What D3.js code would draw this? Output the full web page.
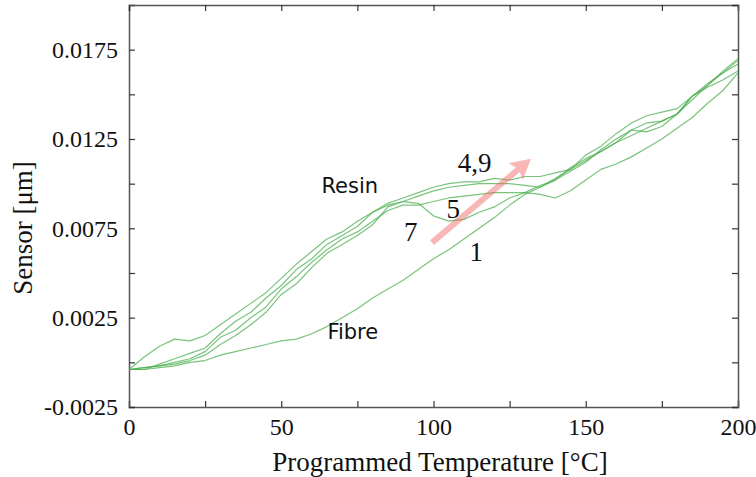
<!DOCTYPE html>
<html>
<head>
<meta charset="utf-8">
<script src="https://cdn.jsdelivr.net/npm/d3@7"></script>
<style>
  body { margin: 0; background: #fff; }
  svg { display: block; }
</style>
</head>
<body>
<svg width="756" height="477"></svg>
<script>
// temperature grid shared by every run (°C)
const temps = [0, 5, 10, 15, 20, 25, 30, 35, 40, 45, 50, 55, 60, 65, 70, 75, 80, 85, 90, 95,
  100, 105, 110, 115, 120, 125, 130, 135, 140, 145, 150, 155, 160, 165, 170, 175, 180, 185, 190, 195, 200];

// sensor readings per run
const run1 = [-0.0004, -0.0004, -0.0003, -0.0002, 0.0000, 0.0001, 0.0004, 0.0006, 0.0008, 0.0010,
  0.0012, 0.0013, 0.0016, 0.0020, 0.0025, 0.0030, 0.0036, 0.0041, 0.0046, 0.0052,
  0.0058, 0.0063, 0.0069, 0.0075, 0.0081, 0.0088, 0.0094, 0.0098, 0.0103, 0.0108,
  0.0113, 0.0118, 0.0123, 0.0130, 0.0134, 0.0135, 0.0139, 0.0147, 0.0155, 0.0163, 0.0170];
const run4 = [-0.0004, 0.0003, 0.0009, 0.0013, 0.0012, 0.0015, 0.0021, 0.0027, 0.0033, 0.0039,
  0.0047, 0.0055, 0.0062, 0.0069, 0.0073, 0.0079, 0.0084, 0.0089, 0.0092, 0.0095,
  0.0098, 0.0100, 0.0101, 0.0101, 0.0103, 0.0102, 0.0104, 0.0104, 0.0106, 0.0108,
  0.0116, 0.0121, 0.0128, 0.0134, 0.0138, 0.0140, 0.0142, 0.0149, 0.0155, 0.0162, 0.0169];
const run9 = [-0.0004, -0.0004, -0.0001, 0.0002, 0.0005, 0.0008, 0.0016, 0.0023, 0.0028, 0.0036,
  0.0043, 0.0052, 0.0058, 0.0066, 0.0071, 0.0076, 0.0084, 0.0088, 0.0090, 0.0093,
  0.0096, 0.0098, 0.0099, 0.0100, 0.0100, 0.0100, 0.0099, 0.0098, 0.0102, 0.0109,
  0.0114, 0.0118, 0.0123, 0.0127, 0.0131, 0.0135, 0.0139, 0.0149, 0.0154, 0.0158, 0.0163];
const run5 = [-0.0004, -0.0003, -0.0002, 0.0000, 0.0002, 0.0006, 0.0014, 0.0018, 0.0025, 0.0031,
  0.0041, 0.0048, 0.0056, 0.0063, 0.0069, 0.0073, 0.0079, 0.0085, 0.0088, 0.0088,
  0.0090, 0.0092, 0.0093, 0.0094, 0.0095, 0.0095, 0.0095, 0.0094, 0.0092, 0.0096,
  0.0102, 0.0108, 0.0111, 0.0115, 0.0120, 0.0125, 0.0131, 0.0137, 0.0145, 0.0152, 0.0162];
const run7 = [-0.0004, -0.0003, -0.0002, -0.0001, 0.0001, 0.0004, 0.0010, 0.0015, 0.0021, 0.0028,
  0.0038, 0.0044, 0.0053, 0.0061, 0.0066, 0.0071, 0.0077, 0.0087, 0.0090, 0.0089,
  0.0082, 0.0079, 0.0080, 0.0084, 0.0087, 0.0092, 0.0095, 0.0099, 0.0102, 0.0107,
  0.0112, 0.0119, 0.0125, 0.0130, 0.0129, 0.0132, 0.0139, 0.0149, 0.0156, 0.0162, 0.0167];

const runs = [run1, run4, run9, run5, run7];

const xTicks = [0, 25, 50, 75, 100, 125, 150, 175, 200];
const xLabels = [0, 50, 100, 150, 200];
const yTicks = [-0.0025, 0, 0.0025, 0.005, 0.0075, 0.01, 0.0125, 0.015, 0.0175, 0.02];
const yLabels = [-0.0025, 0.0025, 0.0075, 0.0125, 0.0175];

// arrow showing the run order (start and end in data units)
const arrowFrom = [99.5, 0.0067];
const arrowTo = [132, 0.0114];

const notes = [
  {text: "Resin", t: 72.5, v: 0.0099, font: "sans"},
  {text: "Fibre", t: 73.5, v: 0.0017, font: "sans"},
  {text: "4,9", t: 113.5, v: 0.0112, font: "serif"},
  {text: "5", t: 106.5, v: 0.0086, font: "serif"},
  {text: "7", t: 92.5, v: 0.0073, font: "serif"},
  {text: "1", t: 114, v: 0.0062, font: "serif"}
];

const svg = d3.select("svg");
const margin = {left: 129, right: 18, top: 5, bottom: 70};
const width = +svg.attr("width"), height = +svg.attr("height");

const x = d3.scaleLinear().domain([0, 200]).range([margin.left, width - margin.right]);
const y = d3.scaleLinear().domain([-0.0025, 0.02]).range([height - margin.bottom, margin.top]);

const serif = "'Liberation Serif', 'DejaVu Serif', serif";
const sans = "'DejaVu Sans', sans-serif";
const fmt = v => d3.format(".4f")(v).replace("\u2212", "-");
const axisColor = "#555";

// axes, ticks point inward
const gx = svg.append("g")
    .attr("transform", "translate(0," + y.range()[0] + ")")
    .call(d3.axisBottom(x).tickValues(xTicks).tickSize(-6).tickPadding(10)
        .tickFormat(d => xLabels.includes(d) ? d : ""));
const gy = svg.append("g")
    .attr("transform", "translate(" + x.range()[0] + ",0)")
    .call(d3.axisLeft(y).tickValues(yTicks).tickSize(-6).tickPadding(11)
        .tickFormat(d => yLabels.some(l => Math.abs(l - d) < 1e-9) ? fmt(d) : ""));
const gTop = svg.append("g")
    .attr("transform", "translate(0," + y.range()[1] + ")")
    .call(d3.axisTop(x).tickValues(xTicks).tickSize(-6).tickFormat(""));
const gRight = svg.append("g")
    .attr("transform", "translate(" + x.range()[1] + ",0)")
    .call(d3.axisRight(y).tickValues(yTicks).tickSize(-6).tickFormat(""));

[gx, gy, gTop, gRight].forEach(g => {
  g.attr("font-family", null);
  g.select(".domain").attr("stroke", axisColor).attr("stroke-width", 1.5);
  g.selectAll(".tick line").attr("stroke", "#333").attr("stroke-width", 1.2);
  g.selectAll("text")
      .attr("font-family", serif)
      .style("font-family", serif)
      .style("font-size", "24px")
      .attr("fill", "#111");
});
gx.selectAll(".tick text").attr("dy", "0.75em");

// axis titles
svg.append("text")
    .attr("x", 440)
    .attr("y", 471)
    .attr("text-anchor", "middle")
    .style("font-family", serif)
    .style("font-size", "27px")
    .attr("fill", "#111")
    .text("Programmed Temperature [°C]");

svg.append("text")
    .attr("transform", "translate(32," + 228 + ")rotate(-90)")
    .attr("text-anchor", "middle")
    .style("font-family", serif)
    .style("font-size", "27px")
    .attr("fill", "#111")
    .text("Sensor [μm]");

// runs
const line = d3.line()
    .x((d, i) => x(temps[i]))
    .y(d => y(d));

svg.append("g").selectAll("path")
    .data(runs)
    .enter()
    .append("path")
    .attr("d", line)
    .style("fill", "none")
    .style("stroke", "#4caf50")
    .style("stroke-opacity", 0.75)
    .style("stroke-width", 1.2)
    .style("stroke-linejoin", "round");

// arrow
const ax0 = x(arrowFrom[0]), ay0 = y(arrowFrom[1]);
const ax1 = x(arrowTo[0]), ay1 = y(arrowTo[1]);
const ang = Math.atan2(ay1 - ay0, ax1 - ax0);
const headLen = 20, headHalf = 11;
const bx = ax1 - headLen * Math.cos(ang), by = ay1 - headLen * Math.sin(ang);
const arrow = svg.append("g").attr("opacity", 0.45);
arrow.append("line")
    .attr("x1", ax0).attr("y1", ay0)
    .attr("x2", bx + 4 * Math.cos(ang)).attr("y2", by + 4 * Math.sin(ang))
    .attr("stroke", "#f06060")
    .attr("stroke-width", 6);
arrow.append("path")
    .attr("d", "M" + ax1 + "," + ay1 +
        "L" + (bx + headHalf * Math.sin(ang)) + "," + (by - headHalf * Math.cos(ang)) +
        "L" + (bx + 4 * Math.cos(ang)) + "," + (by + 4 * Math.sin(ang)) +
        "L" + (bx - headHalf * Math.sin(ang)) + "," + (by + headHalf * Math.cos(ang)) + "Z")
    .attr("fill", "#f06060");

// labels
svg.append("g").selectAll("text")
    .data(notes)
    .enter()
    .append("text")
    .attr("x", d => x(d.t))
    .attr("y", d => y(d.v))
    .attr("text-anchor", "middle")
    .attr("dy", "0.35em")
    .style("font-family", d => d.font === "sans" ? sans : serif)
    .style("font-size", d => d.font === "sans" ? "21px" : "27px")
    .attr("fill", "#111")
    .text(d => d.text);
</script>
</body>
</html>
